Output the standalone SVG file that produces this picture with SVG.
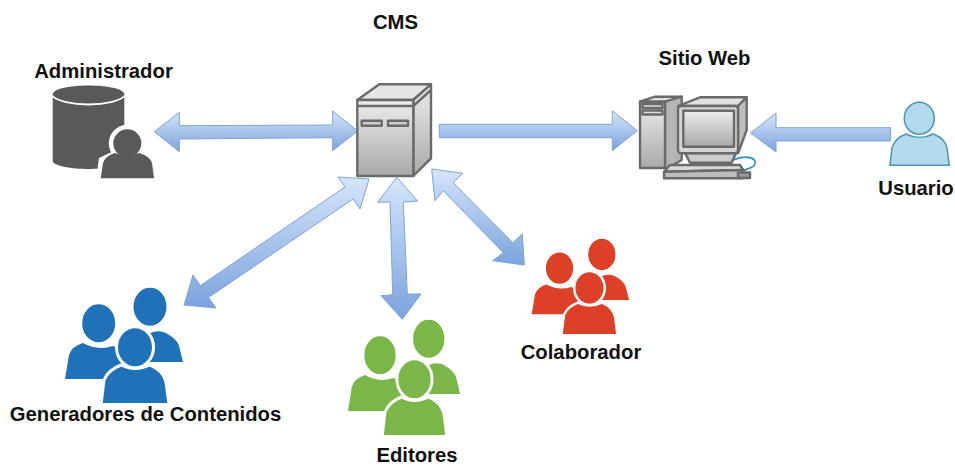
<svg xmlns="http://www.w3.org/2000/svg" width="955" height="466" viewBox="0 0 955 466">
<style>
.lbl{font-family:"Liberation Sans",Arial,sans-serif;font-weight:700;font-size:20.3px;fill:#111;text-anchor:middle}
.arr{fill:url(#ag);stroke:#7ea3d6;stroke-width:1;stroke-linejoin:miter}
.hw{stroke:#6a6a6a;stroke-width:2.4;stroke-linejoin:round}
.gap{stroke:#fff;stroke-width:3}
</style>
<defs>
<linearGradient id="ag" x1="0" y1="0" x2="0" y2="1"><stop offset="0" stop-color="#d6e5fb"/><stop offset="1" stop-color="#7ba3dd"/></linearGradient>
<linearGradient id="mg" x1="0" y1="0" x2="0" y2="1"><stop offset="0" stop-color="#ececec"/><stop offset="1" stop-color="#a9a9a9"/></linearGradient>
<g id="people">
<path d="M122,379V345L153,332Q160,330 166,333Q177,339 179,346L183,362H122Z"/>
<ellipse class="gap" cx="150" cy="306.7" rx="18" ry="20.5"/>
<path d="M65,379L69,355Q72,346 83,343Q97,351 113,346L125,352V379Z"/>
<ellipse class="gap" cx="98.7" cy="323.3" rx="18" ry="20.5"/>
<path class="gap" d="M101,404.5L104,380Q108,370 121,365Q135,372 150,365Q163,370 166,382L169,404.5Z"/>
<ellipse class="gap" cx="135" cy="347.3" rx="18.5" ry="20.5"/>
</g>
</defs>
<rect width="955" height="466" fill="#fff"/>
<g id="connectors">
<polygon class="arr" points="154.3,131.7 179.3,112.3 179.3,125.7 332.7,125 332.7,111 357.7,131 332.7,150.7 332.7,137.7 179.3,139 179.3,151.7"/>
<polygon class="arr" points="439.3,124.3 612.3,124.3 612.3,110.7 637.3,130.7 612.3,150.7 612.3,137.7 439.3,137.7"/>
<polygon class="arr" points="890.7,127.7 776,127.7 776,113 750.5,133 776,152 776,141 890.7,141"/>
<polygon class="arr" points="369,179 360,209 353,199 208.6,297.4 216,308 184,305 193,275 200.4,285.6 345,187 338,177"/>
<polygon class="arr" points="396.7,177.3 417.7,201 403.3,202 407.3,294 421,294 402.3,319.3 381,295.7 392.7,294.7 390,202 377.7,202.3"/>
<polygon class="arr" points="431.7,169 462.7,173.3 453.3,182.7 512.7,242.7 522.3,234 524.3,265 492.7,260.7 503.3,252.7 443.3,190.7 435,200.7"/>
</g>
<g id="cms">
<text class="lbl" x="395.5" y="29">CMS</text>
<polygon class="hw" fill="#e6e6e6" points="357.3,100 379.3,84.3 431,84.3 413.3,100"/>
<polygon class="hw" fill="url(#mg)" points="413.3,100 431,84.3 431,158.3 413.3,176"/>
<rect class="hw" fill="url(#mg)" x="357.3" y="100" width="56" height="76"/>
<path class="hw" fill="none" d="M357.3,106H413.3L431,90"/>
<rect class="hw" fill="#ccc" x="361.7" y="120.7" width="20" height="5" stroke-width="1.5"/>
<rect class="hw" fill="#ccc" x="388" y="120.7" width="20" height="5" stroke-width="1.5"/>
</g>
<g id="sitio">
<text class="lbl" x="704.5" y="65">Sitio Web</text>
<path d="M733,160C745,155 757,157 755,164C753,169 746,168 744,171" fill="none" stroke="#2f8fc0" stroke-width="1.8"/>
<polygon class="hw" fill="#e2e2e2" points="640,101.7 655,96.7 681.7,96.7 668,101.7"/>
<polygon class="hw" fill="#b5b5b5" points="665,101.7 681.7,96.7 681.7,160 668,168 665,168"/>
<rect class="hw" fill="url(#mg)" x="640" y="101.7" width="25" height="66.3"/>
<rect class="hw" fill="#ddd" x="642.5" y="104" width="20" height="4" stroke-width="1.2"/>
<rect class="hw" fill="#ddd" x="642.5" y="110.5" width="20" height="4" stroke-width="1.2"/>
<polygon class="hw" fill="#e0e0e0" points="678,106 700,97.3 746.7,97.3 738,106"/>
<polygon class="hw" fill="#bdbdbd" points="738,106 746.7,97.3 746.7,130 738,153.3"/>
<polygon class="hw" fill="#ccc" points="685,153 736,153 731.7,162.7 690,162.7"/>
<rect class="hw" fill="#d4d4d4" x="678" y="106" width="60" height="47.3" rx="3"/>
<rect class="hw" fill="url(#mg)" x="683.3" y="110.7" width="50.7" height="36"/>
<polygon class="hw" fill="#d8d8d8" points="670,165 740,165 743.3,170 664,171.7"/>
<polygon class="hw" fill="#bdbdbd" points="664,171.7 743.3,170 743,178.3 664,178.3"/>
<rect class="hw" fill="#999" x="738" y="172.5" width="12" height="5.5" stroke-width="1.2"/>
</g>
<g id="administrador">
<text class="lbl" x="103.5" y="78">Administrador</text>
<path fill="#595959" d="M52.7,94.5C52.7,89 68,85.5 88.5,85.5S124.3,89 124.3,94.5V161C124.3,166 105,169 88.5,169S52.7,166 52.7,161Z"/>
<path fill="none" stroke="#fff" stroke-width="1.8" d="M52.7,96C57,101 72,104.5 88.5,104.5S120,101 124.3,96"/>
<ellipse cx="127.3" cy="143.3" rx="18.5" ry="18.5" fill="#fff"/>
<path fill="#fff" d="M96,180L99,158L118,149H137L160,158V180Z"/>
<path fill="#595959" d="M100.7,178.3L103,163Q105,156 115,153Q127,159 139,153Q150,156 152,163L154,178.3Z"/>
<ellipse cx="127.3" cy="143.3" rx="14" ry="14" fill="#595959"/>
</g>
<g id="usuario">
<path fill="#b1dbec" stroke="#4f94b4" stroke-width="1.5" d="M890,165.3L892,148Q895,138 906,134Q920,141 933,134Q945,138 947,148L949.3,165.3Z"/>
<ellipse cx="919.3" cy="118.3" rx="15" ry="16" fill="#b1dbec" stroke="#4f94b4" stroke-width="1.5"/>
<text class="lbl" x="916" y="195">Usuario</text>
</g>
<g id="generadores">
<use href="#people" fill="#1f71b8"/>
<text class="lbl" x="145.5" y="421">Generadores de Contenidos</text>
</g>
<g id="editores">
<use href="#people" fill="#7ab648" transform="translate(286.25,32) scale(.95,1)"/>
<text class="lbl" x="417" y="461.5">Editores</text>
</g>
<g id="colaborador">
<use href="#people" fill="#dd4026" transform="translate(478.1,1.1) scale(.825,.826)"/>
<text class="lbl" x="581" y="359">Colaborador</text>
</g>
</svg>
